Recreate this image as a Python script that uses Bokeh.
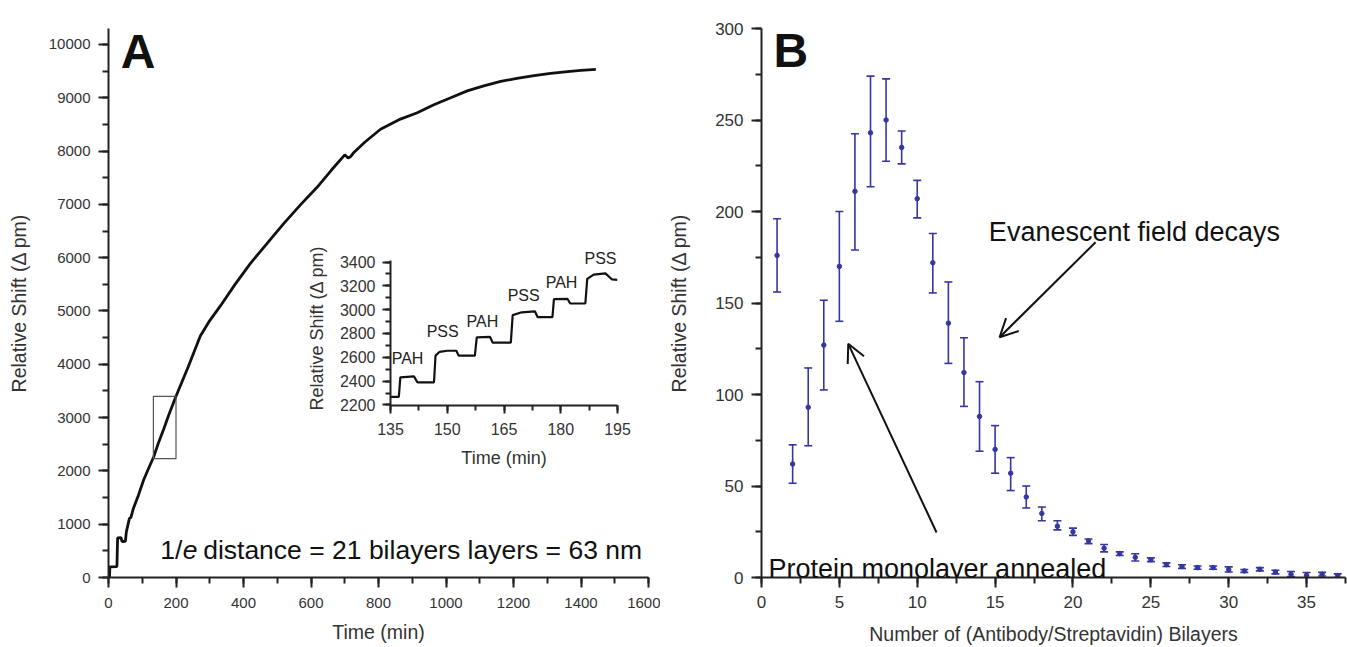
from bokeh.plotting import figure
from bokeh.models import (ColumnDataSource, Whisker, TeeHead, Arrow, OpenHead, Label,
                          SingleIntervalTicker, Range1d, Row)
from bokeh.embed import file_html
from bokeh.resources import INLINE

# ---------------- Panel A: main curve ----------------
time_min = [0, 3, 4, 25, 27, 37, 40, 50, 53, 62, 66, 74, 89, 104, 119, 134, 149, 164, 178, 200,
            236, 272, 300, 331, 375, 420, 470, 519, 570, 618, 660, 700, 710, 718, 727, 760, 806,
            865, 915, 964, 1014, 1063, 1112, 1162, 1210, 1261, 1310, 1360, 1400, 1444]
shift_pm = [0, 0, 200, 205, 745, 750, 675, 680, 860, 1110, 1120, 1300, 1550, 1830, 2050, 2265, 2544,
            2792, 3040, 3400, 3950, 4530, 4820, 5090, 5500, 5890, 6270, 6640, 7000, 7320, 7640, 7930,
            7870, 7900, 7975, 8170, 8410, 8600, 8720, 8870, 9000, 9130, 9225, 9306, 9365, 9417, 9460,
            9492, 9515, 9535]
zoom_box_t = [133, 200]
zoom_box_v = [2230, 3400]

# ---------------- Panel A: inset ----------------
inset_time = [135, 137.2, 137.6, 141.2, 142.1, 146.5, 146.9, 148, 150, 152.4, 153, 157.3, 157.8,
              161.3, 162, 166.8, 167.3, 169.7, 173.2, 173.9, 177.8, 178.2, 181.8, 182.5, 186.5,
              187, 188.7, 191.8, 193.5, 195]
inset_shift = [2268, 2268, 2431, 2440, 2390, 2390, 2614, 2646, 2655, 2655, 2614, 2614, 2767,
               2772, 2723, 2723, 2954, 2978, 2985, 2937, 2937, 3088, 3090, 3052, 3052,
               3258, 3295, 3305, 3255, 3250]
inset_labels = ["PAH", "PSS", "PAH", "PSS", "PAH", "PSS"]
inset_label_t = [139.5, 148.8, 159.3, 170.2, 180.2, 190.5]
inset_label_v = [2594, 2813, 2901, 3120, 3229, 3426]

# ---------------- Panel B ----------------
layers = list(range(1, 38))
shift_b = [176, 62, 93, 127, 170, 211, 243, 250, 235, 207, 172, 139, 112, 88, 70, 57, 44, 35, 28,
           25, 20, 16, 13, 11, 9.7, 7, 6, 5.4, 5.4, 4.3, 3.6, 4.5, 3, 1.8, 1.2, 1.8, 1]
shift_b_lo = [156, 51.5, 72, 102.5, 140, 179, 213.5, 227.5, 226, 196.5, 155.5, 117, 93.5, 69, 57,
              47.5, 38, 31, 26, 23, 18.5, 14, 12, 9, 8.7, 6, 5, 4.5, 4.5, 3, 2.8, 3.6, 2, 0.5,
              -0.3, 0.8, 0]
shift_b_hi = [196, 72.5, 114.5, 151.5, 200, 242.5, 274, 272.5, 244, 217, 188, 161.5, 131, 107, 83,
              65.5, 50, 38.5, 31, 27, 21, 18, 14, 13, 10.7, 8, 7, 6.3, 6.3, 5.8, 4.4, 5.4, 4, 3.3,
              2.7, 2.8, 2]

FONT = "Liberation Sans"
AXC = "#222222"
TXC = "#333333"
BLUE = "#36369f"


def style_axes(p, tick_size, label_size):
    for ax in (p.xaxis[0], p.yaxis[0]):
        ax.axis_line_color = AXC
        ax.axis_line_width = 2
        ax.major_tick_line_color = AXC
        ax.major_tick_line_width = 2
        ax.minor_tick_line_color = AXC
        ax.minor_tick_line_width = 2
        ax.major_tick_in = 0
        ax.minor_tick_in = 0
        ax.major_label_text_font = FONT
        ax.major_label_text_font_size = tick_size
        ax.major_label_text_color = TXC
        ax.axis_label_text_font = FONT
        ax.axis_label_text_font_size = label_size
        ax.axis_label_text_font_style = "normal"
        ax.axis_label_text_color = TXC
    p.xgrid.visible = False
    p.ygrid.visible = False
    p.outline_line_color = None


# ---- Figure A ----
pA = figure(width=660, height=647, x_range=Range1d(0, 1600), y_range=Range1d(0, 10300),
            output_backend="svg", toolbar_location=None,
            min_border_left=108, min_border_right=12, min_border_top=26, min_border_bottom=67)
pA.xaxis.axis_label = "Time (min)"
pA.yaxis.axis_label = "Relative Shift (\u0394 pm)"
pA.xaxis.ticker = SingleIntervalTicker(interval=200, num_minor_ticks=2)
pA.yaxis.ticker = SingleIntervalTicker(interval=1000, num_minor_ticks=2)
style_axes(pA, "15px", "19.5px")
for ax in (pA.xaxis[0], pA.yaxis[0]):
    ax.major_tick_out = 10
    ax.minor_tick_out = 6
    ax.major_label_standoff = 8
pA.xaxis[0].major_label_standoff = 10
pA.xaxis[0].axis_label_standoff = 10
pA.yaxis[0].axis_label_standoff = 16

pA.line(time_min, shift_pm, line_color="#111111", line_width=2.8)
pA.quad(left=[zoom_box_t[0]], right=[zoom_box_t[1]], bottom=[zoom_box_v[0]], top=[zoom_box_v[1]],
        fill_color=None, line_color="#555555", line_width=1.2)

pA.add_layout(Label(x=36, y=9864, text="A", text_font=FONT, text_font_size="48px",
                    text_font_style="bold", text_color="#111111", text_baseline="alphabetic"))
ann_t, ann_v = 153, 521
pA.add_layout(Label(x=ann_t, y=ann_v, text="1/", text_font=FONT, text_font_size="26.5px",
                    text_color="#111111", text_baseline="alphabetic"))
pA.add_layout(Label(x=ann_t, y=ann_v, x_offset=22.5, text="e", text_font=FONT,
                    text_font_size="26.5px", text_font_style="italic", text_color="#111111",
                    text_baseline="alphabetic"))
pA.add_layout(Label(x=ann_t, y=ann_v, x_offset=43, text="distance = 21 bilayers layers = 63 nm",
                    text_font=FONT, text_font_size="26.5px", text_color="#111111",
                    text_baseline="alphabetic"))

# ---- Inset ----
pI = figure(width=332, height=253, x_range=Range1d(135, 195), y_range=Range1d(2195, 3497),
            output_backend="svg", toolbar_location=None,
            min_border_left=90, min_border_right=15, min_border_top=15, min_border_bottom=60,
            background_fill_alpha=0, border_fill_alpha=0,
            styles={"position": "absolute", "left": "300px", "top": "222px"})
pI.xaxis.axis_label = "Time (min)"
pI.yaxis.axis_label = "Relative Shift (\u0394 pm)"
pI.xaxis.ticker = SingleIntervalTicker(interval=15, num_minor_ticks=2)
pI.yaxis.ticker = SingleIntervalTicker(interval=200, num_minor_ticks=2)
pI.yaxis.bounds = (2195, 3410)
style_axes(pI, "16px", "18px")
for ax in (pI.xaxis[0], pI.yaxis[0]):
    ax.major_tick_out = 8
    ax.minor_tick_out = 5
pI.xaxis[0].major_label_standoff = 9
pI.yaxis[0].major_label_standoff = 7
pI.xaxis[0].axis_label_standoff = 10
pI.yaxis[0].axis_label_standoff = 10
pI.line(inset_time, inset_shift, line_color="#111111", line_width=2.2)
for lab, lt, lv in zip(inset_labels, inset_label_t, inset_label_v):
    pI.add_layout(Label(x=lt, y=lv, text=lab, text_font=FONT, text_font_size="16px",
                        text_color="#222222", text_align="center", text_baseline="middle"))

# ---- Figure B ----
pB = figure(width=687, height=647, x_range=Range1d(0, 37.5), y_range=Range1d(0, 300),
            output_backend="svg", toolbar_location=None,
            min_border_left=101, min_border_right=2, min_border_top=28, min_border_bottom=70)
pB.xaxis.axis_label = "Number of (Antibody/Streptavidin) Bilayers"
pB.yaxis.axis_label = "Relative Shift (\u0394 pm)"
pB.xaxis.ticker = SingleIntervalTicker(interval=5, num_minor_ticks=2)
pB.yaxis.ticker = SingleIntervalTicker(interval=50, num_minor_ticks=2)
style_axes(pB, "17px", "19.5px")
for ax in (pB.xaxis[0], pB.yaxis[0]):
    ax.major_tick_out = 10
    ax.minor_tick_out = 6
    ax.major_label_standoff = 8
pB.xaxis[0].axis_label_standoff = 12
pB.yaxis[0].axis_label_standoff = 22

srcB = ColumnDataSource(dict(n=layers, s=shift_b, lo=shift_b_lo, hi=shift_b_hi))
pB.add_layout(Whisker(base="n", lower="lo", upper="hi", source=srcB, line_color=BLUE, line_width=1.6,
                      upper_head=TeeHead(size=8, line_color=BLUE, line_width=1.6),
                      lower_head=TeeHead(size=8, line_color=BLUE, line_width=1.6)))
pB.scatter("n", "s", source=srcB, size=4.5, color=BLUE)

pB.add_layout(Label(x=0.77, y=288, text="B", text_font=FONT, text_font_size="48px",
                    text_font_style="bold", text_color="#111111", text_baseline="alphabetic"))
pB.add_layout(Label(x=14.6, y=189, text="Evanescent field decays", text_font=FONT,
                    text_font_size="27px", text_color="#111111", text_baseline="alphabetic"))
pB.add_layout(Label(x=0.45, y=4.4, text="Protein monolayer annealed", text_font=FONT,
                    text_font_size="27px", text_color="#111111", text_baseline="alphabetic"))
pB.add_layout(Arrow(x_start=11.24, y_start=24.6, x_end=5.57, y_end=127.7, line_color="#111111",
                    line_width=2, end=OpenHead(size=18, line_color="#111111", line_width=2)))
pB.add_layout(Arrow(x_start=21.45, y_start=183.2, x_end=15.29, y_end=131.3, line_color="#111111",
                    line_width=2, end=OpenHead(size=18, line_color="#111111", line_width=2)))

layout = Row(children=[pA, pB, pI], styles={"position": "relative"})

open("out.html", "w").write(file_html(layout, INLINE))
